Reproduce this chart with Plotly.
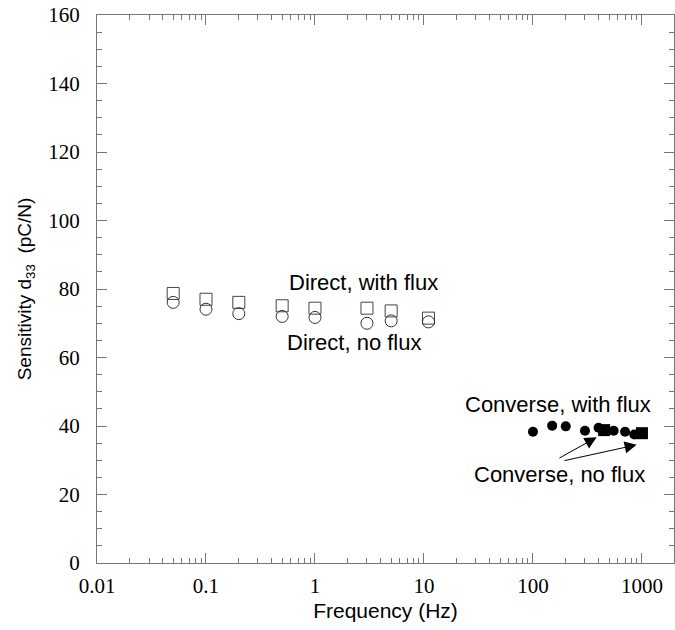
import plotly.graph_objects as go

# Direct measurements
direct_freq = [0.05, 0.1, 0.2, 0.5, 1, 3, 5, 11]
direct_flux = [78.7, 77.0, 76.1, 75.1, 74.4, 74.4, 73.6, 71.5]
direct_noflux = [76.1, 74.1, 72.8, 72.0, 71.7, 70.0, 70.7, 70.4]

# Converse measurements
conv_flux_freq = [100, 150, 200, 300, 400, 550, 700, 850]
conv_flux = [38.3, 40.1, 39.9, 38.6, 39.5, 38.6, 38.3, 37.5]
conv_noflux_freq = [450, 1000]
conv_noflux = [38.8, 37.9]

x_tickvals = [0.01, 0.1, 1, 10, 100, 1000]
x_ticktext = ["0.01", "0.1", "1", "10", "100", "1000"]
y_tickvals = [0, 20, 40, 60, 80, 100, 120, 140, 160]

fig = go.Figure()
fig.add_trace(go.Scatter(x=direct_freq, y=direct_flux, mode="markers",
                         marker=dict(symbol="square-open", size=12, color="#444", line=dict(width=1))))
fig.add_trace(go.Scatter(x=direct_freq, y=direct_noflux, mode="markers",
                         marker=dict(symbol="circle-open", size=12, color="#333", line=dict(width=1))))
fig.add_trace(go.Scatter(x=conv_flux_freq, y=conv_flux, mode="markers",
                         marker=dict(symbol="circle", size=10, color="black")))
fig.add_trace(go.Scatter(x=conv_noflux_freq, y=conv_noflux, mode="markers",
                         marker=dict(symbol="square", size=12, color="black")))

sans = "Liberation Sans"
serif = "Liberation Serif"
txtfont = dict(family=sans, size=22, color="black")
fig.add_annotation(x=0.445, y=82.0, xref="x", yref="y", text="Direct, with flux",
                   showarrow=False, font=txtfont)
fig.add_annotation(x=0.362, y=64.5, xref="x", yref="y", text="Direct, no flux",
                   showarrow=False, font=txtfont)
fig.add_annotation(x=2.234, y=46.4, xref="x", yref="y", text="Converse, with flux",
                   showarrow=False, font=txtfont)
fig.add_annotation(x=2.239, y=25.7, xref="x", yref="y", text="Converse, no flux",
                   showarrow=False, font=txtfont)
for tx, ty, hx, hy in [(2.229, 30.4, 2.584, 36.7), (2.275, 29.8, 2.951, 34.5)]:
    fig.add_annotation(x=hx, y=hy, ax=tx, ay=ty, xref="x", yref="y", axref="x", ayref="y",
                       text="", showarrow=True, arrowhead=2, arrowsize=2.4, arrowwidth=1,
                       arrowcolor="black", standoff=0, startstandoff=0)

axcol = "#777"
fig.update_layout(
    width=675, height=630,
    margin=dict(l=97, r=1, t=15, b=67),
    plot_bgcolor="white", paper_bgcolor="white",
    showlegend=False,
    xaxis=dict(type="log", range=[-2, 3.294], tickvals=x_tickvals, ticktext=x_ticktext,
               ticks="inside", ticklen=10, tickcolor=axcol, showline=True, linecolor=axcol,
               linewidth=1, mirror="ticks", showgrid=False, zeroline=False,
               minor=dict(ticks="inside", ticklen=5, tickcolor=axcol, dtick="D1", showgrid=False),
               tickfont=dict(family=serif, size=21, color="black"),
               ticklabelstandoff=4,
               title=dict(text="Frequency (Hz)", font=dict(family=sans, size=21, color="black"),
                          standoff=6)),
    yaxis=dict(range=[0, 160], tickvals=y_tickvals,
               ticks="inside", ticklen=10, tickcolor=axcol, showline=True, linecolor=axcol,
               linewidth=1, mirror="ticks", showgrid=False, zeroline=False,
               minor=dict(ticks="inside", ticklen=5, tickcolor=axcol, dtick=5, showgrid=False),
               tickfont=dict(family=serif, size=21, color="black"),
               ticklabelstandoff=12,
               title=dict(text="Sensitivity d<sub>33</sub>  (pC/N)",
                          font=dict(family=sans, size=19, color="black"),
                          standoff=11)),
)
fig.write_html("out.html")
